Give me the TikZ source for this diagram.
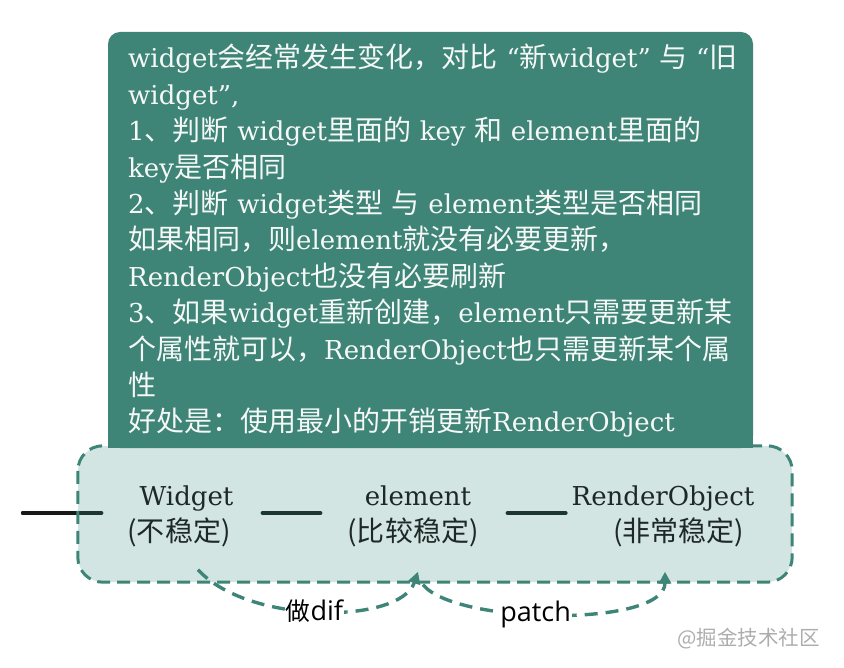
\documentclass[tikz,border=0pt]{standalone}
\usepackage{fontspec}
\setmainfont{DejaVu Serif}
\newfontfamily\cjk{Noto Sans CJK SC}[Scale=1.077]
\newfontfamily\labelsans{Open Sans}
\newcommand{\zh}[1]{{\cjk #1}}
\usetikzlibrary{positioning,arrows.meta,calc}
\definecolor{tealdark}{HTML}{3E8577}
\definecolor{teallight}{HTML}{D2E5E3}
\definecolor{barcol}{HTML}{1C3631}
\definecolor{notetext}{HTML}{F5F8F6}
\definecolor{inktext}{HTML}{1E2826}

\begin{document}
\begin{tikzpicture}[x=1pt,y=-1pt,
  stage/.style={align=center,inner sep=0pt,text=inktext,font=\fontsize{26}{36}\selectfont},
  bar/.style={line width=4.2pt,line cap=round,barcol},
  border/.style={tealdark,line width=3pt,dash pattern=on 13pt off 7pt,rounded corners=25pt},
  flow/.style={line width=3.4pt,tealdark,dash pattern=on 13pt off 8pt,-{Triangle[length=12pt,width=12pt]}},
  flowtag/.style={fill=white,text=black,inner sep=1pt,font=\labelsans\fontsize{27}{27}\selectfont}]
  % widget / element / renderobject layers
  \useasboundingbox (0,0) rectangle (844,668);
  \node[fill=teallight,rounded corners=25pt,minimum width=714pt,minimum height=136pt] (box) at (435,514) {};
  \coordinate (lead) at (23,513);

  \node[stage,anchor=base] (wdg) at (186.5,541) {Widget\\\zh{(不稳定)}\hspace*{15pt}};
  \node[stage,anchor=base] (elm) at (418,541) {element\\\zh{(比较稳定)}\hspace*{10pt}};
  \node[stage,anchor=base] (ro) at (663,541) {RenderObject\\\hspace*{31pt}\zh{(非常稳定)}};

  \draw[bar,shorten >=26pt] (lead) -- (wdg.west |- lead);
  \draw[bar,black!90] (lead) -- (box.west |- lead);
  \foreach \a/\b/\s/\e in {wdg/elm/17/27,elm/ro/19/6}
    \draw[bar,shorten <=\s pt,shorten >=\e pt] (\a.east |- lead) -- (\b.west |- lead);
  \draw[border] (box.north west) rectangle (box.south east);

  % the note on top
  \fill[tealdark,rounded corners=12pt] (108,32) rectangle (753,448);
  \fill[tealdark] (108,300) rectangle (753,448);
  \node[anchor=base west,text width=640pt,align=left,inner sep=0pt,text=notetext,
    font=\fontsize{26}{36.4}\selectfont] (note) at (128,68)
    {widget\zh{会经常发生变化，对比} “\zh{新}widget” \zh{与} “\zh{旧}\\
     widget”,\\
     1\zh{、判断} widget\zh{里面的} key \zh{和} element\zh{里面的}\\
     key\zh{是否相同}\\
     2\zh{、判断} widget\zh{类型} \zh{与} element\zh{类型是否相同}\\
     \zh{如果相同，则}element\zh{就没有必要更新，}\\
     RenderObject\zh{也没有必要刷新}\\
     3\zh{、如果}widget\zh{重新创建，}element\zh{只需要更新某}\\
     \zh{个属性就可以，}RenderObject\zh{也只需更新某个属}\\
     \zh{性}\\
     \zh{好处是：使用最小的开销更新}RenderObject};

  \draw[flow] ([shift={(11.5,23)}]wdg.south) .. controls +(50,55) and +(-18,53) .. ([shift={(0,25)}]elm.south)
    node[flowtag,pos=.48] {{\fontsize{23}{23}\cjk 做}dif};
  \draw[flow] ([shift={(5,38)}]elm.south) .. controls +(32,40) and +(0,56) .. ([shift={(2,25)}]ro.south)
    node[flowtag,pos=.44] {patch};

  \node[anchor=east,text=black!32,font=\fontsize{19}{19}\cjk] (mark) at (823,639) {@掘金技术社区};
\end{tikzpicture}
\end{document}
